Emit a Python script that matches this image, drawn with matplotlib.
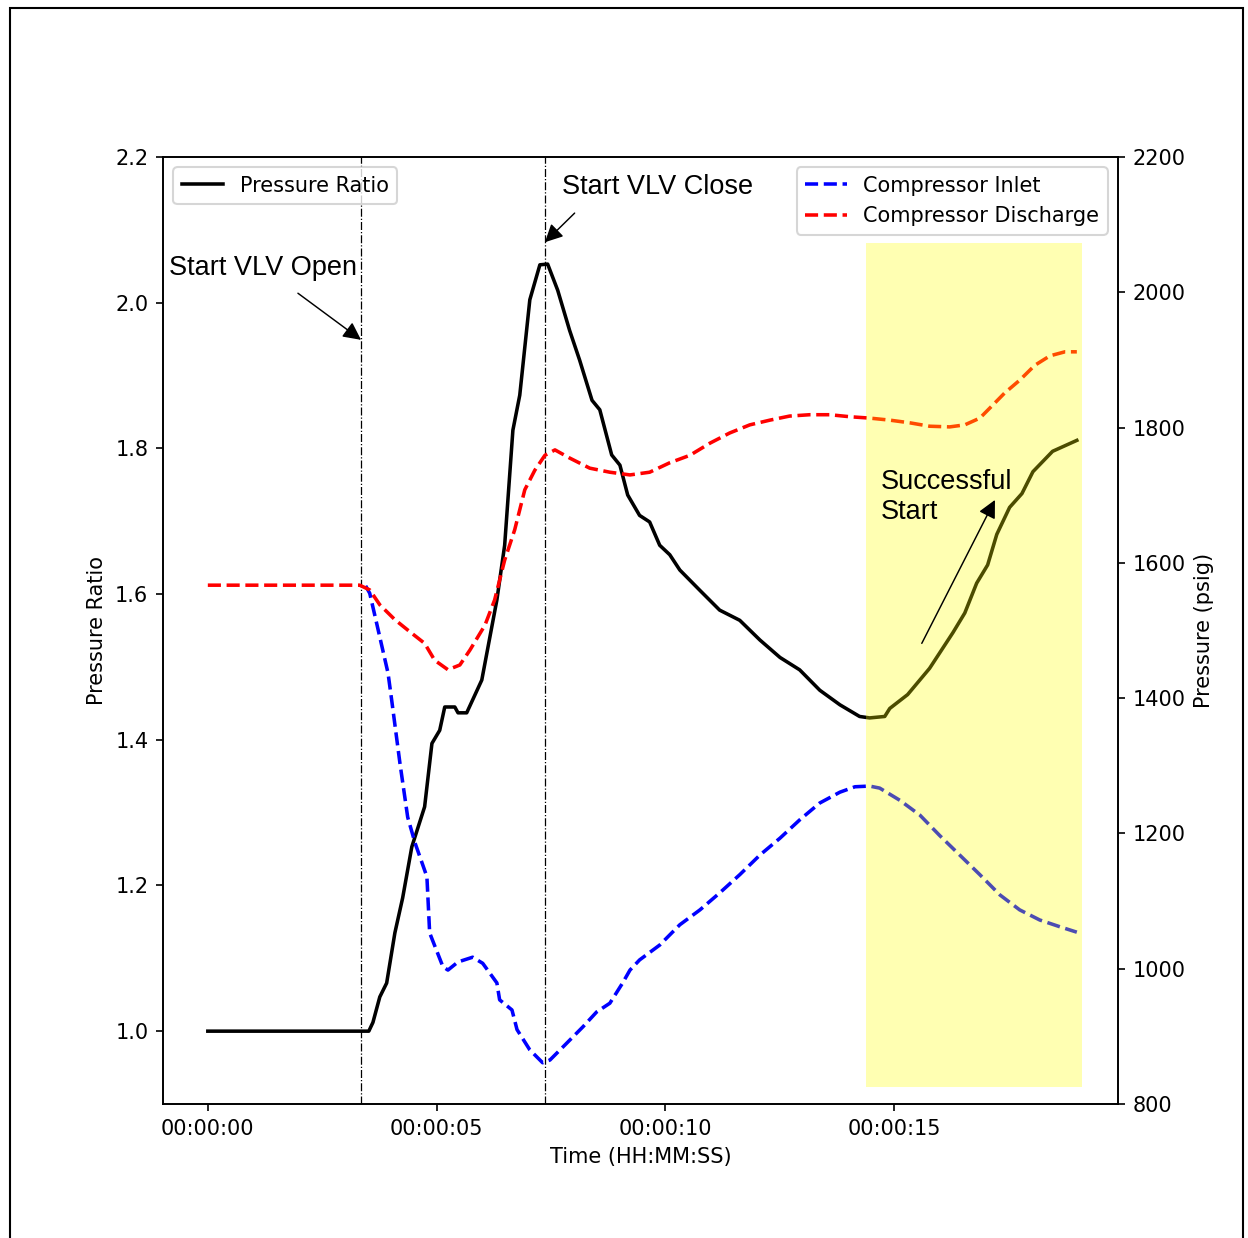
import numpy as np
import matplotlib
matplotlib.use('Agg')
import matplotlib.pyplot as plt
from matplotlib.patches import Rectangle

# pressure ratio (left axis)
t_ratio = [0, 3.52, 3.61, 3.76, 3.91, 4.09, 4.26, 4.46, 4.74, 4.90, 5.07, 5.18, 5.40, 5.47, 5.66,
           5.99, 6.32, 6.49, 6.67, 6.82, 7.04, 7.26, 7.43, 7.65, 7.91, 8.13, 8.40, 8.57, 8.83,
           9.01, 9.18, 9.44, 9.66, 9.88, 10.10, 10.32, 10.76, 11.19, 11.63, 12.07, 12.51, 12.94,
           13.38, 13.82, 14.25, 14.47, 14.80, 14.91, 15.30, 15.78, 16.29, 16.55, 16.81, 17.05,
           17.25, 17.53, 17.80, 18.04, 18.47, 19.0]
ratio = [1.0, 1.0, 1.012, 1.047, 1.066, 1.135, 1.183, 1.253, 1.308, 1.395, 1.413, 1.445, 1.445,
         1.437, 1.437, 1.482, 1.592, 1.667, 1.825, 1.873, 2.004, 2.052, 2.053, 2.017, 1.962,
         1.921, 1.866, 1.853, 1.791, 1.777, 1.736, 1.708, 1.699, 1.667, 1.654, 1.633, 1.605,
         1.578, 1.564, 1.537, 1.513, 1.496, 1.468, 1.448, 1.432, 1.430, 1.432, 1.443, 1.462,
         1.498, 1.547, 1.574, 1.615, 1.640, 1.682, 1.719, 1.738, 1.768, 1.796, 1.811]

# compressor inlet (right axis, psig)
t_inlet = [3.45, 3.54, 3.69, 3.94, 4.02, 4.20, 4.37, 4.53, 4.79, 4.85, 5.14, 5.25, 5.47, 5.79,
           6.01, 6.32, 6.38, 6.65, 6.76, 7.04, 7.32, 7.48, 7.76, 8.20, 8.50, 8.79, 9.07, 9.23,
           9.44, 9.88, 10.32, 10.76, 11.19, 11.63, 12.07, 12.51, 12.94, 13.38, 13.82, 14.15,
           14.47, 14.69, 15.13, 15.57, 16.00, 16.44, 16.88, 17.32, 17.75, 18.19, 18.63, 19.00]
p_inlet = [1566, 1555, 1511, 1437, 1397, 1304, 1224, 1186, 1136, 1053, 1003, 998, 1010, 1017,
           1008, 979, 954, 939, 910, 880, 861, 865, 884, 914, 936, 949, 979, 998, 1013, 1035,
           1065, 1087, 1112, 1139, 1168, 1193, 1220, 1245, 1261, 1269, 1270, 1267, 1249, 1227,
           1197, 1168, 1139, 1109, 1087, 1072, 1062, 1054]

# compressor discharge (right axis, psig)
t_dis = [0, 3.32, 3.54, 3.76, 4.09, 4.42, 4.74, 4.96, 5.25, 5.51, 5.73, 6.06, 6.27, 6.49, 6.71,
         6.93, 7.15, 7.37, 7.59, 7.91, 8.35, 8.79, 9.23, 9.66, 10.10, 10.54, 10.98, 11.41,
         11.85, 12.29, 12.72, 13.16, 13.60, 14.04, 14.47, 14.91, 15.35, 15.78, 16.22, 16.55,
         16.88, 17.10, 17.42, 17.75, 18.08, 18.41, 18.74, 19.00]
p_dis = [1567, 1567, 1560, 1538, 1516, 1498, 1481, 1456, 1442, 1449, 1471, 1508, 1545, 1604,
         1649, 1708, 1737, 1759, 1767, 1755, 1740, 1734, 1730, 1734, 1748, 1759, 1777, 1792,
         1804, 1811, 1817, 1819, 1819, 1816, 1814, 1811, 1807, 1802, 1801, 1804, 1814, 1829,
         1851, 1870, 1892, 1906, 1912, 1912]

tick_pos = [0, 5, 10, 15]
tick_labels = ["00:00:00", "00:00:05", "00:00:10", "00:00:15"]
vlv_open = 3.35
vlv_close = 7.37

fig = plt.figure(figsize=(1248/150, 1238/150), dpi=150)
ax = fig.add_axes([163/1248, 1-1104/1238, (1118-163)/1248, (1104-157)/1238])
ax2 = ax.twinx()

ax.plot(t_ratio, ratio, "k-", lw=1.7, label="Pressure Ratio")
ax.axvline(vlv_open, color="black", ls="-.", lw=0.6)
ax.axvline(vlv_close, color="black", ls="-.", lw=0.6)
ax.set_xlim(-0.98, 19.9)
ax.set_ylim(0.9, 2.2)
ax.set_yticks(np.arange(1.0, 2.21, 0.2))
ax.set_xticks(tick_pos)
ax.set_xticklabels(tick_labels)
ax.set_xlabel("Time (HH:MM:SS)")
ax.set_ylabel("Pressure Ratio")
ax.legend(loc="upper left")

ax2.plot(t_inlet, p_inlet, "b--", lw=1.7, label="Compressor Inlet")
ax2.plot(t_dis, p_dis, "r--", lw=1.7, label="Compressor Discharge")
ax2.set_ylim(800, 2200)
ax2.set_ylabel("Pressure (psig)")
ax2.legend(loc="upper right")
ax2.add_patch(Rectangle((14.39, 825), 19.11-14.39, 2073-825, facecolor="yellow",
                        edgecolor="none", alpha=0.3, zorder=5))

arrow = dict(arrowstyle="-|>", color="black", lw=0.7, mutation_scale=18, shrinkA=0, shrinkB=0)
ax.annotate("", xy=(3.35, 1.949), xytext=(1.97, 2.013), arrowprops=arrow)
ax.text(-0.85, 2.048, "Start VLV Open", fontsize=13, family="Liberation Sans", va="center")
ax.annotate("", xy=(7.37, 2.083), xytext=(8.02, 2.123), arrowprops=arrow)
ax.text(7.74, 2.159, "Start VLV Close", fontsize=13, family="Liberation Sans", va="center")
ax2.annotate("", xy=(17.21, 1693), xytext=(15.61, 1481), arrowprops=arrow, zorder=6)
ax2.text(14.71, 1697, "Successful\nStart", fontsize=13, family="Liberation Sans",
         va="center", zorder=6)

fig.patches.append(Rectangle((10/1248, -0.02), (1243-10)/1248, 1-8/1238+0.02,
                             transform=fig.transFigure, fill=False, edgecolor="black", lw=1.0))

fig.savefig("out.png", dpi=150)
